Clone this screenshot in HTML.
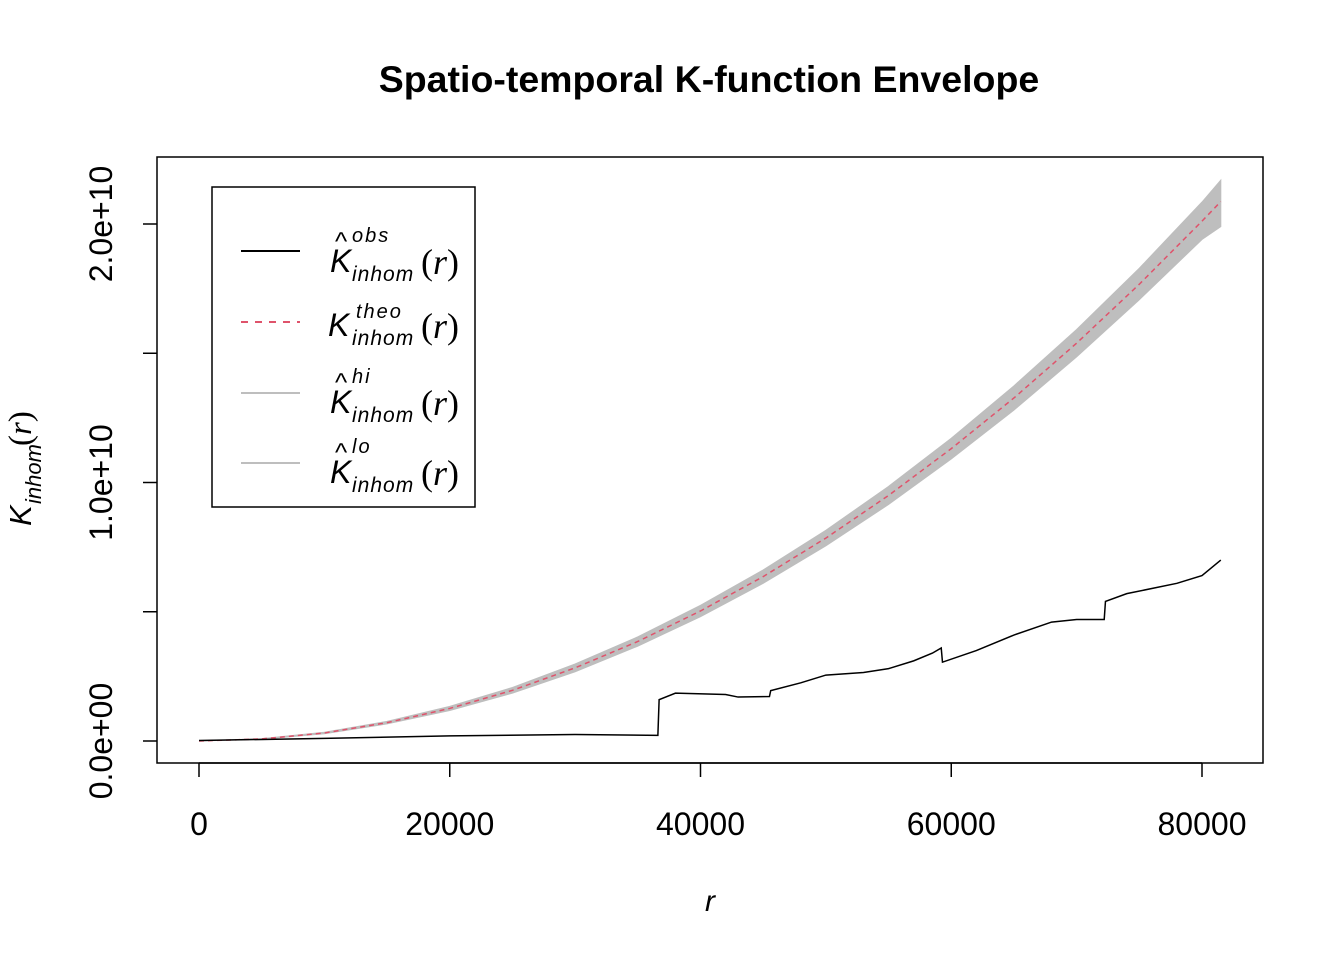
<!DOCTYPE html>
<html><head><meta charset="utf-8"><style>
body{margin:0;background:#fff}
svg{display:block;font-family:"Liberation Sans",sans-serif}
</style></head><body>
<svg id="c" width="1344" height="960">
<text x="709" y="92" text-anchor="middle" font-size="37.5" font-weight="bold">Spatio-temporal K-function Envelope</text>
<rect x="157" y="157" width="1106" height="606" fill="none" stroke="#000" stroke-width="1.5"/>
<g id="plot"></g>
<g id="xaxis"></g>
<g id="yaxis"></g>
<text x="710" y="911" text-anchor="middle" font-size="30" font-style="italic">r</text>
<g transform="translate(31,460) rotate(-90)">
<text x="-66" y="0" font-size="31" font-style="italic">K</text>
<text x="-44" y="10" font-size="22" font-style="italic">inhom</text>
<text x="14" y="0" font-size="33" font-family="Liberation Serif,serif">(<tspan font-style="italic">r</tspan>)</text>
</g>
<g>
<rect x="212" y="187" width="263" height="320" fill="#fff" stroke="#000" stroke-width="1.5"/>
<g>
<line x1="241" y1="251" x2="300" y2="251" stroke="#000" stroke-width="2"/>
<text x="335" y="250" font-size="26">^</text>
<text x="330" y="272" font-size="32" font-style="italic">K</text>
<text x="352" y="242" font-size="20" font-style="italic" letter-spacing="2">obs</text>
<text x="352" y="281" font-size="21" font-style="italic" letter-spacing="1">inhom</text>
<text x="421" y="274" font-size="36" font-family="Liberation Serif,serif">(<tspan font-style="italic">r</tspan>)</text>
</g>
<g>
<line x1="241" y1="322" x2="300" y2="322" stroke="#DF536B" stroke-width="2" stroke-dasharray="7,7"/>
<text x="328" y="336" font-size="32" font-style="italic">K</text>
<text x="356" y="318" font-size="20" font-style="italic" letter-spacing="2">theo</text>
<text x="352" y="345" font-size="21" font-style="italic" letter-spacing="1">inhom</text>
<text x="421" y="338" font-size="36" font-family="Liberation Serif,serif">(<tspan font-style="italic">r</tspan>)</text>
</g>
<g>
<line x1="241" y1="393" x2="300" y2="393" stroke="#BEBEBE" stroke-width="2"/>
<text x="335" y="391" font-size="26">^</text>
<text x="330" y="413" font-size="32" font-style="italic">K</text>
<text x="352" y="383" font-size="20" font-style="italic" letter-spacing="2">hi</text>
<text x="352" y="422" font-size="21" font-style="italic" letter-spacing="1">inhom</text>
<text x="421" y="415" font-size="36" font-family="Liberation Serif,serif">(<tspan font-style="italic">r</tspan>)</text>
</g>
<g>
<line x1="241" y1="463" x2="300" y2="463" stroke="#BEBEBE" stroke-width="2"/>
<text x="335" y="461" font-size="26">^</text>
<text x="330" y="483" font-size="32" font-style="italic">K</text>
<text x="352" y="453" font-size="20" font-style="italic" letter-spacing="2">lo</text>
<text x="352" y="492" font-size="21" font-style="italic" letter-spacing="1">inhom</text>
<text x="421" y="485" font-size="36" font-family="Liberation Serif,serif">(<tspan font-style="italic">r</tspan>)</text>
</g>
</g>
</svg>
<script>
// values in units of 1e10
const envR  = [0,5000,10000,15000,20000,25000,30000,35000,40000,45000,50000,55000,60000,65000,70000,75000,80000,81500];
const theo  = [0,0.008,0.031,0.071,0.126,0.196,0.283,0.385,0.503,0.636,0.785,0.950,1.131,1.327,1.539,1.767,2.011,2.087];
const hi    = [0,0.009,0.034,0.076,0.134,0.207,0.298,0.403,0.525,0.662,0.815,0.985,1.171,1.374,1.592,1.829,2.085,2.17];
const lo    = [0,0.007,0.028,0.066,0.118,0.185,0.268,0.367,0.481,0.610,0.755,0.915,1.091,1.280,1.486,1.707,1.940,1.99];
const obsR  = [0,5000,10000,20000,30000,36600,36700,38000,42000,43000,45500,45600,48000,50000,53000,55000,57000,58500,59200,59300,62000,65000,68000,70000,72200,72300,74000,78000,80000,81500];
const obs   = [0.002,0.006,0.010,0.020,0.025,0.022,0.160,0.185,0.180,0.170,0.172,0.195,0.225,0.255,0.265,0.280,0.310,0.340,0.360,0.305,0.350,0.410,0.460,0.470,0.470,0.540,0.570,0.610,0.640,0.700];
const xTicks = [0,20000,40000,60000,80000];
const yTicks = [0,0.5,1,1.5,2];
const yLabels = ["0.0e+00","","1.0e+10","","2.0e+10"];

const NS="http://www.w3.org/2000/svg";
const X=r=>199+r*(1202-199)/80000;
const Y=v=>741-v*258.5;
function mk(tag,attrs,parent){const e=document.createElementNS(NS,tag);for(const k in attrs)e.setAttribute(k,attrs[k]);parent.appendChild(e);return e;}
const plot=document.getElementById('plot'),xa=document.getElementById('xaxis'),ya=document.getElementById('yaxis');

let d="M"+envR.map((r,i)=>X(r)+","+Y(hi[i])).join("L");
for(let i=envR.length-1;i>=0;i--)d+="L"+X(envR[i])+","+Y(lo[i]);
const band=mk('path',{d:d+"Z",fill:"#BEBEBE",stroke:"#BEBEBE"},plot);



const tl=mk('polyline',{points:envR.map((r,i)=>X(r)+","+Y(theo[i])).join(" "),fill:"none",stroke:"#DF536B","stroke-width":1.5,"stroke-dasharray":"5,4"},plot);



const ol=mk('polyline',{points:obsR.map((r,i)=>X(r)+","+Y(obs[i])).join(" "),fill:"none",stroke:"#000","stroke-width":1.5},plot);



xTicks.forEach(t=>{
  const g=mk('g',{},xa);
  
  
  mk('line',{x1:X(t),x2:X(t),y1:763,y2:777,stroke:"#000","stroke-width":1.5},g);
  const tx=mk('text',{x:X(t),y:835,"text-anchor":"middle","font-size":32},g);tx.textContent=t;
});
mk('line',{x1:X(0),x2:X(80000),y1:763,y2:763,stroke:"#000","stroke-width":1.5},xa);
yTicks.forEach((t,i)=>{
  const g=mk('g',{},ya);
  
  
  mk('line',{x1:143,x2:157,y1:Y(t),y2:Y(t),stroke:"#000","stroke-width":1.5},g);
  if(yLabels[i]){const tx=mk('text',{x:0,y:0,"text-anchor":"middle","font-size":32,transform:`translate(112,${Y(t)}) rotate(-90)`},g);tx.textContent=yLabels[i];}
});
</script>
</body></html>
